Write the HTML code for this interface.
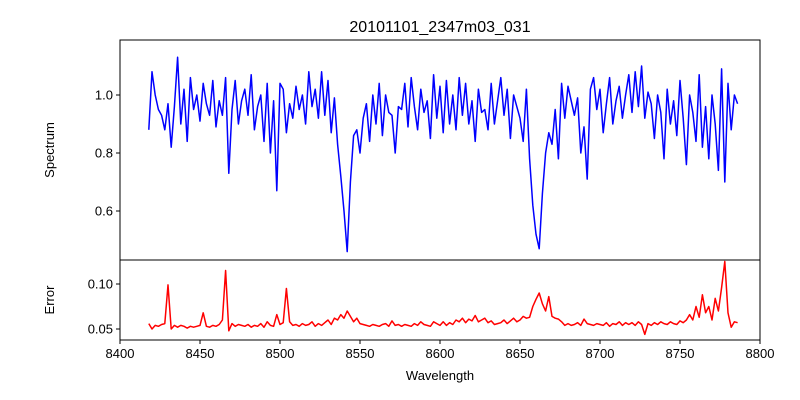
<!DOCTYPE html>
<html><head><meta charset="utf-8"><style>
body{margin:0;background:#fff;}
svg{display:block;font-family:"Liberation Sans","DejaVu Sans",sans-serif;}
</style></head><body>
<svg id="chart" width="800" height="400"></svg>
<script>
const wlStart = 8418, wlStep = 2;
const spectrumValues = [
0.88,1.08,1.00,0.95,0.93,0.88,0.97,0.82,0.96,1.13,
0.90,1.02,0.84,1.06,0.95,1.00,0.91,1.04,0.97,0.93,
1.05,0.89,0.98,0.93,1.06,0.73,0.95,1.05,0.90,0.98,
1.02,0.93,1.07,0.88,0.96,1.00,0.84,1.04,0.80,0.98,
0.67,1.04,1.02,0.87,0.97,0.92,1.03,0.95,1.00,0.90,
1.08,0.96,1.02,0.92,1.08,0.93,1.05,0.87,0.99,0.83,
0.72,0.60,0.46,0.70,0.86,0.88,0.80,0.92,0.97,0.84,
1.00,0.90,1.04,0.86,1.00,0.94,0.93,0.80,0.96,0.95,
1.04,0.89,1.06,0.96,0.88,1.02,0.94,0.98,0.85,1.07,
0.92,1.03,0.87,1.05,0.90,1.00,0.88,1.06,0.93,1.04,
0.90,0.98,0.84,1.02,0.94,0.95,0.88,1.04,0.90,0.98,
1.06,0.93,1.02,0.85,1.00,0.96,0.92,0.84,1.02,0.78,
0.62,0.52,0.47,0.66,0.80,0.87,0.83,0.95,0.78,1.04,
0.92,1.03,0.98,0.93,0.99,0.80,0.89,0.71,1.02,1.06,
0.95,1.02,0.87,0.97,1.06,0.90,0.98,1.03,0.92,1.00,
1.07,0.94,1.08,0.96,1.10,0.92,1.01,0.97,0.85,1.00,
0.94,0.78,1.02,0.90,0.98,0.86,1.05,0.92,0.76,1.00,
0.94,0.84,1.07,0.82,0.96,0.78,1.00,0.90,0.74,1.09,
0.70,1.04,0.88,1.00,0.97];
const errorValues = [
0.056,0.050,0.054,0.053,0.055,0.056,0.099,0.050,0.054,0.052,
0.054,0.053,0.051,0.053,0.052,0.053,0.054,0.068,0.053,0.052,
0.054,0.053,0.055,0.060,0.115,0.048,0.056,0.053,0.055,0.054,
0.053,0.055,0.052,0.054,0.053,0.056,0.052,0.058,0.054,0.053,
0.066,0.055,0.057,0.095,0.058,0.054,0.055,0.053,0.056,0.054,
0.055,0.058,0.053,0.056,0.054,0.057,0.060,0.055,0.062,0.060,
0.066,0.062,0.070,0.064,0.058,0.062,0.056,0.055,0.054,0.053,
0.055,0.054,0.053,0.055,0.056,0.053,0.059,0.054,0.055,0.053,
0.055,0.054,0.053,0.056,0.054,0.058,0.055,0.054,0.053,0.058,
0.056,0.054,0.058,0.054,0.057,0.055,0.060,0.058,0.062,0.057,
0.061,0.059,0.065,0.058,0.060,0.062,0.057,0.059,0.055,0.056,
0.057,0.060,0.056,0.059,0.062,0.058,0.060,0.064,0.062,0.063,
0.075,0.083,0.090,0.078,0.070,0.086,0.064,0.062,0.061,0.058,
0.054,0.056,0.054,0.055,0.057,0.054,0.061,0.056,0.055,0.054,
0.056,0.055,0.054,0.057,0.053,0.056,0.055,0.058,0.054,0.057,
0.055,0.057,0.054,0.058,0.055,0.044,0.056,0.054,0.057,0.055,
0.058,0.056,0.055,0.058,0.056,0.055,0.059,0.057,0.060,0.066,
0.060,0.075,0.063,0.088,0.068,0.075,0.060,0.084,0.070,0.096,
0.125,0.068,0.052,0.058,0.057];
const xTicks = [8400,8450,8500,8550,8600,8650,8700,8750,8800];
const specTicks = [0.6,0.8,1.0];
const errTicks = [0.05,0.10];

const NS="http://www.w3.org/2000/svg";
const svg=document.getElementById('chart');
function el(t,a,p){const e=document.createElementNS(NS,t);for(const k in a)e.setAttribute(k,a[k]);(p||svg).appendChild(e);return e;}
const X=w=>120+(w-8400)*1.6;
const Ys=v=>95-(v-1)*290;
const Ye=v=>329-(v-0.05)*900;

let t=el('text',{x:440,y:32,'text-anchor':'middle','font-size':16});t.textContent='20101101_2347m03_031';



function line(vals,Y,color,name){
  const d=vals.map((v,i)=>(i?'L':'M')+X(wlStart+i*wlStep).toFixed(1)+','+Y(v).toFixed(1)).join('');
  const p=el('path',{d:d,fill:'none',stroke:color,'stroke-width':1.5,'stroke-linejoin':'round'});
  
  
}
line(spectrumValues,Ys,'#0000ff','spectrum-line');
line(errorValues,Ye,'#ff0000','error-line');

const a1=el('rect',{x:120,y:40,width:640,height:220,fill:'none',stroke:'#000','stroke-width':1});


const a2=el('rect',{x:120,y:260,width:640,height:80,fill:'none',stroke:'#000','stroke-width':1});



specTicks.forEach(v=>{
  el('line',{x1:116,x2:120,y1:Ys(v),y2:Ys(v),stroke:'#000'});
  const tt=el('text',{x:113,y:Ys(v)+4.5,'text-anchor':'end','font-size':13});tt.textContent=v.toFixed(1);
  
  
});
errTicks.forEach(v=>{
  el('line',{x1:116,x2:120,y1:Ye(v),y2:Ye(v),stroke:'#000'});
  const tt=el('text',{x:113,y:Ye(v)+4.5,'text-anchor':'end','font-size':13});tt.textContent=v.toFixed(2);
  
  
});
xTicks.forEach(v=>{
  el('line',{x1:X(v),x2:X(v),y1:340,y2:344,stroke:'#000'});
  const tt=el('text',{x:X(v),y:358,'text-anchor':'middle','font-size':13});tt.textContent=v;
  
  
});
t=el('text',{x:440,y:380,'text-anchor':'middle','font-size':13});t.textContent='Wavelength';


t=el('text',{x:54,y:150,'text-anchor':'middle','font-size':13,transform:'rotate(-90 54 150)'});t.textContent='Spectrum';


t=el('text',{x:54,y:300,'text-anchor':'middle','font-size':13,transform:'rotate(-90 54 300)'});t.textContent='Error';


</script>
</body></html>
